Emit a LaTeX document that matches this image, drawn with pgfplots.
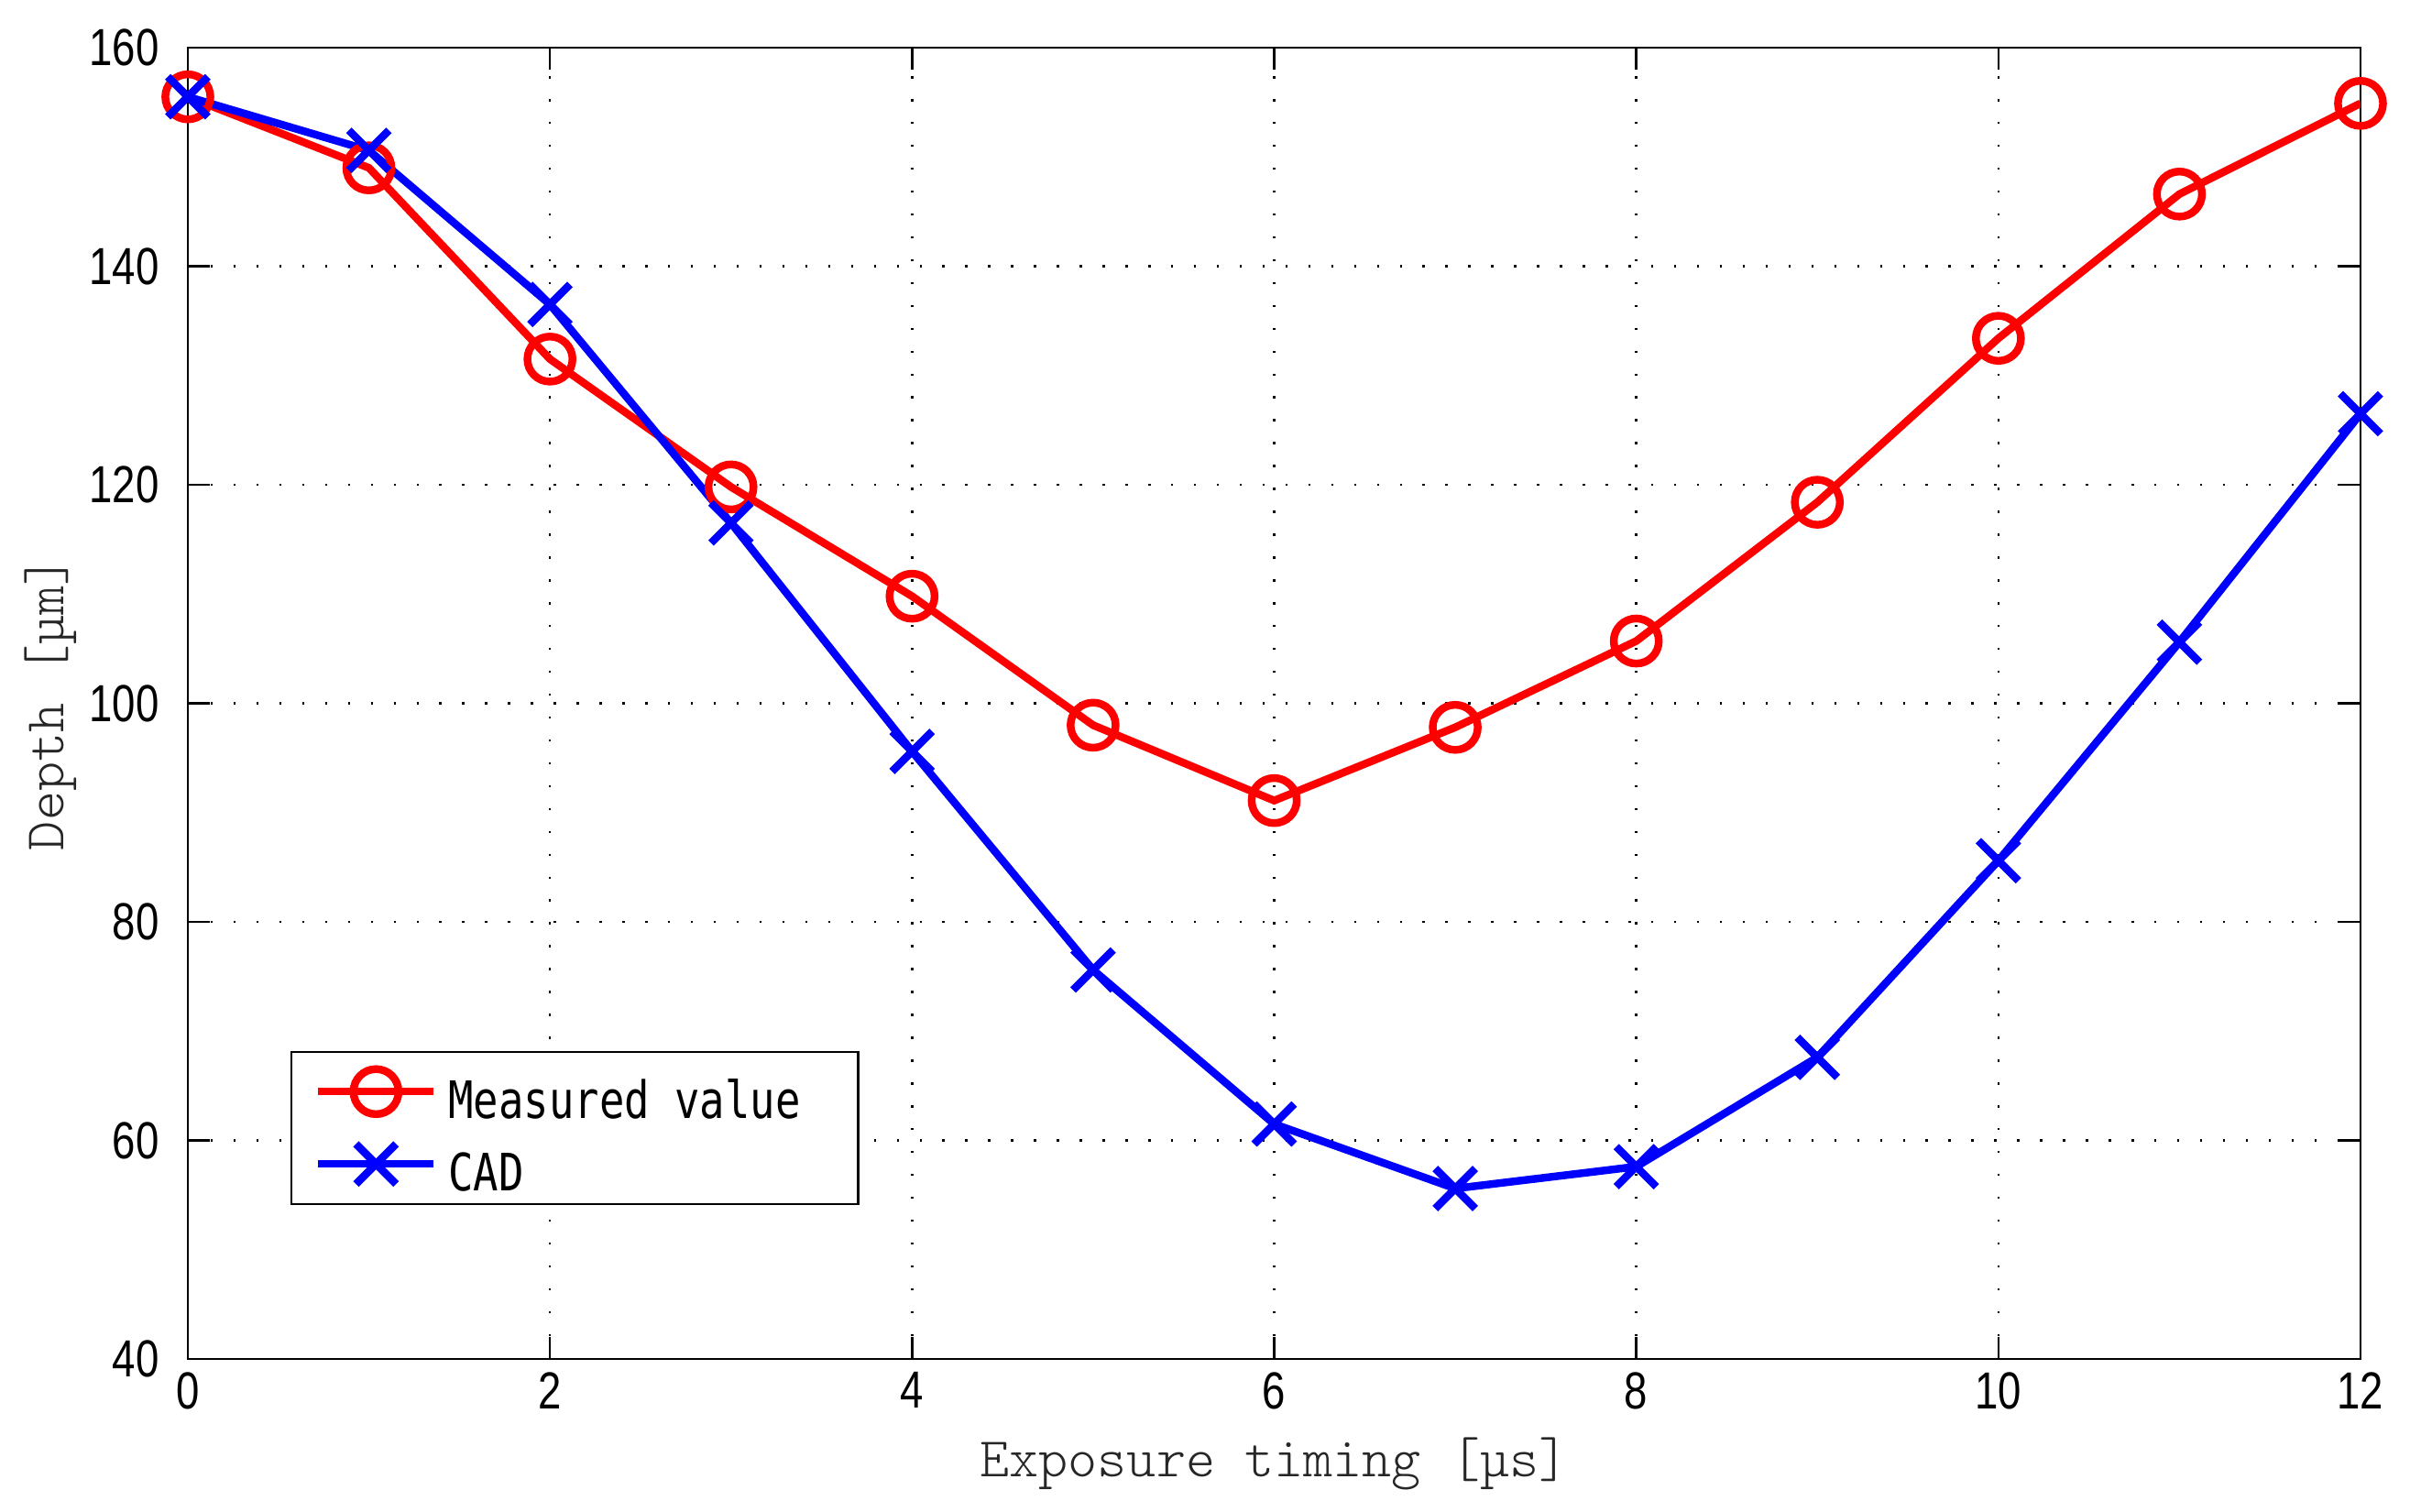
\documentclass[border=0pt]{standalone}
\usepackage{fontspec}
\usepackage{pgfplots}
\pgfplotsset{compat=1.18}
\newfontfamily\tickfont[FakeStretch=0.8]{Liberation Sans}
\newfontfamily\legfont[FakeStretch=0.81]{DejaVu Sans Mono}
\newfontfamily\labfont{Latin Modern Mono Light}
\begin{document}
\begin{tikzpicture}
\useasboundingbox (-1.025,-0.835) rectangle (12.125,7.415);
\begin{axis}[
  at={(0,0)}, anchor=south west,
  scale only axis, width=11.855cm, height=7.155cm,
  xmin=0, xmax=12, ymin=40, ymax=160,
  xtick={0,2,...,12}, ytick={40,60,...,160},
  tick align=inside, major tick length=0.12cm,
  axis line style={line width=0.35pt},
  every tick/.style={black, line width=0.35pt},
  grid=major,
  major grid style={black, line width=0.35pt, dash pattern=on 0.35pt off 3.2pt},
  /pgf/number format/assume math mode=true,
  ticklabel style={font=\fontsize{8.1}{9}\tickfont},
  xticklabel style={inner sep=0pt, yshift=-0.065cm},
  yticklabel style={inner sep=0pt, xshift=-0.15cm},
  xlabel={Exposure timing [µs]},
  ylabel={Depth [µm]},
  label style={font=\fontsize{8.7}{10}\labfont, text=black!85},
  xlabel style={at={(axis description cs:0.5,-0.0797)}, anchor=center},
  ylabel style={at={(axis description cs:-0.0633,0.5)}, anchor=center},
  legend cell align=left,
  legend style={at={(axis description cs:0.0472,0.1174)}, anchor=south west,
    draw=black, line width=0.35pt, fill=white,
    inner xsep=0.125cm, inner ysep=0.07cm, row sep=0.10cm,
    font=\fontsize{8}{9}\legfont,
    nodes={inner sep=0pt, text height=0.295cm, text depth=0cm},
    /tikz/every odd column/.append style={column sep=0.06cm}},
  legend image code/.code={\draw[mark repeat=2,mark phase=2] plot coordinates {(0cm,0cm) (0.315cm,0cm) (0.63cm,0cm)};},
]
\addplot[color=red, line width=1.2pt, mark=o, mark size=3.5pt, mark options={solid, line width=1.2pt}]
  coordinates {(0,155.5) (1,149) (2,131.5) (3,119.8) (4,109.8) (5,98) (6,91.1) (7,97.8) (8,105.7) (9,118.4) (10,133.4) (11,146.6) (12,154.9)};
\addlegendentry{Measured value\hspace*{0.19cm}}
\addplot[color=blue, line width=1.2pt, mark=x, mark size=4.4pt, mark options={solid, line width=1.2pt}]
  coordinates {(0,155.5) (1,150.6) (2,136.5) (3,116.5) (4,95.6) (5,75.6) (6,61.5) (7,55.6) (8,57.6) (9,67.6) (10,85.6) (11,105.6) (12,126.5)};
\addlegendentry{CAD}
\end{axis}
\end{tikzpicture}
\end{document}
